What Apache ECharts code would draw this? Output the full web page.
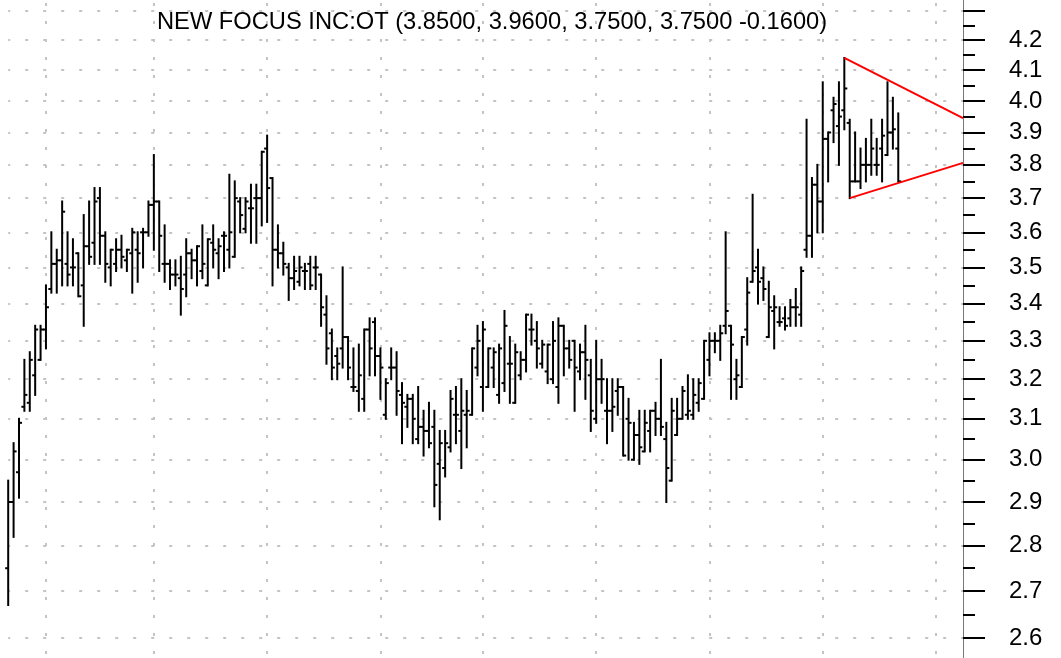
<!DOCTYPE html>
<html>
<head>
<meta charset="utf-8">
<title>NEW FOCUS INC:OT</title>
<script src="https://cdn.jsdelivr.net/npm/echarts@6/dist/echarts.min.js"></script>
<style>
html, body { margin: 0; padding: 0; background: #fff; }
#chart { width: 1061px; height: 658px; }
</style>
</head>
<body>
<div id="chart"></div>
<script>
// daily OHLC bars (166 trading days)
const opens = [
  2.75, 2.90, 2.97, 3.13, 3.14, 3.21, 3.25, 3.33, 3.44, 3.51, 3.52, 3.51, 3.50, 3.54, 3.45, 3.56, 3.57, 3.70, 3.59, 3.50,
  3.51, 3.55, 3.52, 3.54, 3.55, 3.60, 3.60, 3.68, 3.69, 3.51, 3.51, 3.48, 3.47, 3.48,
  3.54, 3.52, 3.49, 3.45, 3.57, 3.54, 3.59, 3.55, 3.53, 3.69, 3.61, 3.67, 3.70, 3.70, 3.85, 3.76, 3.55, 3.54, 3.50, 3.47,
  3.46, 3.49, 3.51, 3.50, 3.48, 3.37, 3.32, 3.26, 3.28, 3.31, 3.18, 3.17, 3.15, 3.33,
  3.35, 3.26, 3.11, 3.23, 3.23, 3.16, 3.13, 3.15, 3.05, 3.08, 3.07, 3.08, 2.99, 2.98, 3.03, 3.11, 3.07, 3.11, 3.11, 3.23,
  3.18, 3.18, 3.23, 3.16, 3.19, 3.24, 3.14, 3.21, 3.25, 3.33, 3.30, 3.24, 3.22, 3.20, 3.18,
  3.34, 3.28, 3.30, 3.22, 3.27, 3.21, 3.10, 3.20, 3.12, 3.12, 3.17, 3.18, 3.10, 3.00, 3.06, 3.02, 3.07, 3.12, 3.10, 3.05,
  2.95, 3.06, 3.10, 3.11, 3.11, 3.14, 3.15, 3.25, 3.30, 3.30, 3.34, 3.34, 3.20, 3.18,
  3.33, 3.46, 3.50, 3.47, 3.31, 3.38, 3.35, 3.36, 3.36, 3.39, 3.37, 3.55, 3.59, 3.74, 3.69, 3.88, 3.97, 3.92, 3.97, 3.93,
  3.75, 3.75, 3.80, 3.80, 3.80, 3.85, 3.83, 3.90, 3.85
];
const highs = [
  2.95, 3.04, 3.10, 3.25, 3.27, 3.34, 3.34, 3.45, 3.60, 3.55, 3.69, 3.60, 3.58, 3.54, 3.65, 3.69, 3.73, 3.73, 3.60, 3.55,
  3.58, 3.59, 3.55, 3.61, 3.60, 3.61, 3.69, 3.83, 3.69, 3.62, 3.52, 3.52, 3.53, 3.58,
  3.55, 3.56, 3.62, 3.58, 3.62, 3.58, 3.60, 3.77, 3.75, 3.70, 3.70, 3.74, 3.74, 3.84, 3.89, 3.76, 3.62, 3.57, 3.51, 3.53,
  3.53, 3.51, 3.53, 3.53, 3.48, 3.42, 3.33, 3.28, 3.50, 3.31, 3.28, 3.29, 3.33, 3.36,
  3.36, 3.28, 3.20, 3.28, 3.27, 3.19, 3.16, 3.16, 3.18, 3.12, 3.14, 3.12, 3.07, 3.07, 3.17, 3.18, 3.20, 3.17, 3.28, 3.34,
  3.35, 3.28, 3.28, 3.29, 3.38, 3.31, 3.29, 3.27, 3.37, 3.37, 3.35, 3.30, 3.29, 3.35, 3.36,
  3.34, 3.30, 3.30, 3.29, 3.34, 3.25, 3.30, 3.25, 3.20, 3.20, 3.20, 3.18, 3.15, 3.09, 3.12, 3.12, 3.12, 3.14, 3.25, 3.09,
  3.15, 3.15, 3.18, 3.21, 3.20, 3.20, 3.30, 3.32, 3.32, 3.34, 3.60, 3.34, 3.25, 3.31,
  3.47, 3.71, 3.55, 3.50, 3.46, 3.42, 3.39, 3.39, 3.41, 3.44, 3.50, 3.94, 3.76, 3.80, 4.06, 3.90, 4.01, 4.06, 4.14, 3.94,
  3.90, 3.85, 3.88, 3.94, 3.88, 3.94, 4.06, 4.01, 3.96
];
const lows = [
  2.67, 2.82, 2.91, 3.12, 3.12, 3.16, 3.25, 3.28, 3.43, 3.43, 3.45, 3.45, 3.45, 3.42, 3.34, 3.51, 3.51, 3.51, 3.46, 3.45,
  3.49, 3.50, 3.49, 3.43, 3.46, 3.50, 3.59, 3.55, 3.49, 3.46, 3.44, 3.45, 3.37, 3.42,
  3.47, 3.45, 3.47, 3.45, 3.50, 3.47, 3.49, 3.50, 3.53, 3.60, 3.60, 3.57, 3.57, 3.62, 3.63, 3.45, 3.50, 3.48, 3.41, 3.44,
  3.45, 3.44, 3.44, 3.44, 3.34, 3.24, 3.20, 3.20, 3.23, 3.20, 3.17, 3.12, 3.12, 3.21,
  3.21, 3.15, 3.10, 3.20, 3.11, 3.04, 3.08, 3.04, 3.04, 3.01, 3.03, 2.89, 2.86, 2.96, 3.02, 3.04, 2.98, 3.03, 3.11, 3.21,
  3.12, 3.18, 3.18, 3.14, 3.17, 3.14, 3.14, 3.20, 3.22, 3.29, 3.23, 3.23, 3.19, 3.19, 3.14,
  3.21, 3.23, 3.12, 3.20, 3.15, 3.07, 3.09, 3.14, 3.04, 3.07, 3.11, 3.01, 3.00, 3.00, 2.99, 3.02, 3.02, 3.06, 3.06, 2.90,
  2.95, 3.06, 3.10, 3.10, 3.10, 3.12, 3.15, 3.21, 3.27, 3.25, 3.32, 3.15, 3.15, 3.18,
  3.29, 3.46, 3.40, 3.41, 3.31, 3.28, 3.34, 3.33, 3.34, 3.34, 3.34, 3.53, 3.53, 3.60, 3.60, 3.75, 3.87, 3.80, 3.91, 3.70,
  3.75, 3.73, 3.75, 3.77, 3.77, 3.75, 3.83, 3.85, 3.75
];
const closes = [
  2.90, 3.02, 3.09, 3.16, 3.25, 3.33, 3.33, 3.39, 3.51, 3.52, 3.66, 3.48, 3.50, 3.42, 3.56, 3.53, 3.69, 3.59, 3.51, 3.55,
  3.55, 3.53, 3.55, 3.60, 3.54, 3.60, 3.68, 3.69, 3.59, 3.51, 3.48, 3.48, 3.44, 3.54,
  3.52, 3.56, 3.51, 3.58, 3.55, 3.56, 3.59, 3.60, 3.70, 3.65, 3.69, 3.67, 3.70, 3.84, 3.73, 3.55, 3.54, 3.51, 3.47, 3.49,
  3.50, 3.49, 3.45, 3.50, 3.39, 3.28, 3.23, 3.24, 3.31, 3.23, 3.18, 3.21, 3.33, 3.28,
  3.26, 3.23, 3.19, 3.23, 3.17, 3.14, 3.15, 3.10, 3.08, 3.07, 3.04, 2.94, 3.04, 3.04, 3.15, 3.11, 3.12, 3.12, 3.28, 3.30,
  3.33, 3.28, 3.27, 3.28, 3.34, 3.24, 3.27, 3.25, 3.37, 3.33, 3.28, 3.29, 3.29, 3.30, 3.34,
  3.28, 3.25, 3.23, 3.27, 3.25, 3.12, 3.20, 3.20, 3.12, 3.13, 3.18, 3.01, 3.09, 3.06, 3.03, 3.09, 3.12, 3.10, 3.08, 2.98,
  3.12, 3.10, 3.17, 3.12, 3.16, 3.19, 3.30, 3.30, 3.30, 3.32, 3.38, 3.29, 3.21, 3.31,
  3.43, 3.49, 3.46, 3.44, 3.39, 3.39, 3.35, 3.34, 3.39, 3.39, 3.49, 3.59, 3.74, 3.69, 3.88, 3.90, 3.99, 3.95, 4.04, 3.75,
  3.75, 3.80, 3.80, 3.85, 3.80, 3.89, 3.90, 3.91, 3.75
];

// first trading day of each month (bar index), drawn as vertical grid lines
const monthStarts = [7, 27, 48, 69, 88, 109, 130, 151, 172];
// price scale ticks
const priceLabels = [2.6, 2.7, 2.8, 2.9, 3.0, 3.1, 3.2, 3.3, 3.4, 3.5, 3.6, 3.7, 3.8, 3.9, 4.0, 4.1, 4.2];
const majorTicks = [2.6, 2.7, 2.8, 2.9, 3.0, 3.1, 3.2, 3.3, 3.4, 3.5, 3.6, 3.7, 3.8, 3.9, 4.0, 4.1, 4.2, 4.3];
const minorTicks = [2.65, 2.75, 2.85, 2.95, 3.05, 3.15, 3.25, 3.35, 3.45, 3.55, 3.65, 3.75, 3.85, 3.95, 4.05, 4.15, 4.25];
// triangle drawn on the chart: [bar index, price]
const upperLine = [[155, 4.14], [177, 3.945]];
const lowerLine = [[156, 3.70], [177, 3.806]];

const slotCount = 178;
const slots = [];
for (let i = 0; i < slotCount; i++) slots.push(String(i));

const bars = [];
for (let i = 0; i < closes.length; i++) {
  bars.push([i, opens[i], highs[i], lows[i], closes[i]]);
}

const priceMin = 2.559;
const priceMax = 4.337;

function renderBar(params, api) {
  const x = api.value(0);
  const hi = api.coord([x, api.value(2)]);
  const lo = api.coord([x, api.value(3)]);
  const op = api.coord([x, api.value(1)]);
  const cl = api.coord([x, api.value(4)]);
  const style = { stroke: '#000', lineWidth: 2, fill: null };
  return {
    type: 'group',
    children: [
      { type: 'line', shape: { x1: hi[0], y1: hi[1] - 1, x2: lo[0], y2: lo[1] + 1 }, style: style },
      { type: 'line', shape: { x1: op[0] - 3, y1: op[1], x2: op[0], y2: op[1] }, style: style },
      { type: 'line', shape: { x1: cl[0], y1: cl[1], x2: cl[0] + 3, y2: cl[1] }, style: style }
    ]
  };
}

const chart = echarts.init(document.getElementById('chart'));

const options = {
  animation: false,
  backgroundColor: '#fff',
  title: {
    text: 'NEW FOCUS INC:OT (3.8500, 3.9600, 3.7500, 3.7500 -0.1600)',
    left: 157,
    top: 10,
    padding: 0,
    textStyle: {
      fontFamily: 'Liberation Sans',
      fontSize: 23.7,
      fontWeight: 'normal',
      color: '#000'
    }
  },
  grid: {
    left: 8.2,
    right: 98,
    top: 0,
    bottom: 0,
    containLabel: false
  },
  xAxis: {
    type: 'category',
    data: slots,
    boundaryGap: false,
    axisLine: { show: false },
    axisTick: { show: false },
    axisLabel: { show: false },
    splitLine: {
      show: true,
      interval: function (index) { return monthStarts.indexOf(index) >= 0; },
      lineStyle: { color: '#c4c4c4', width: 2, type: [3, 15], dashOffset: -3 }
    }
  },
  yAxis: [{
    type: 'log',
    position: 'right',
    min: priceMin,
    max: priceMax,
    axisLine: { show: true, lineStyle: { color: '#777', width: 1 } },
    axisTick: {
      show: true,
      inside: false,
      length: 22,
      customValues: majorTicks,
      lineStyle: { color: '#000', width: 2 }
    },
    axisLabel: {
      customValues: priceLabels,
      margin: 46,
      padding: [4, 0, 0, 0],
      color: '#000',
      fontFamily: 'Liberation Sans',
      fontSize: 24,
      formatter: function (v) { return Number(v).toFixed(1); }
    },
    splitLine: {
      show: true,
      lineStyle: { color: '#c4c4c4', width: 2, type: [3, 15], dashOffset: 1 }
    }
  }, {
    type: 'log',
    position: 'right',
    min: priceMin,
    max: priceMax,
    axisLine: { show: false },
    axisTick: {
      show: true,
      inside: false,
      length: 12,
      customValues: minorTicks,
      lineStyle: { color: '#000', width: 2 }
    },
    axisLabel: { show: false },
    splitLine: { show: false }
  }],
  series: [{
    type: 'custom',
    name: 'NEW FOCUS INC:OT',
    renderItem: renderBar,
    data: bars,
    encode: { x: 0, y: [1, 2, 3, 4] },
    silent: true
  }, {
    type: 'line',
    data: upperLine,
    symbol: 'none',
    silent: true,
    lineStyle: { color: '#ff0000', width: 2 },
    z: 5
  }, {
    type: 'line',
    data: lowerLine,
    symbol: 'none',
    silent: true,
    lineStyle: { color: '#ff0000', width: 2 },
    z: 5
  }]
};

chart.setOption(options);
</script>
</body>
</html>
